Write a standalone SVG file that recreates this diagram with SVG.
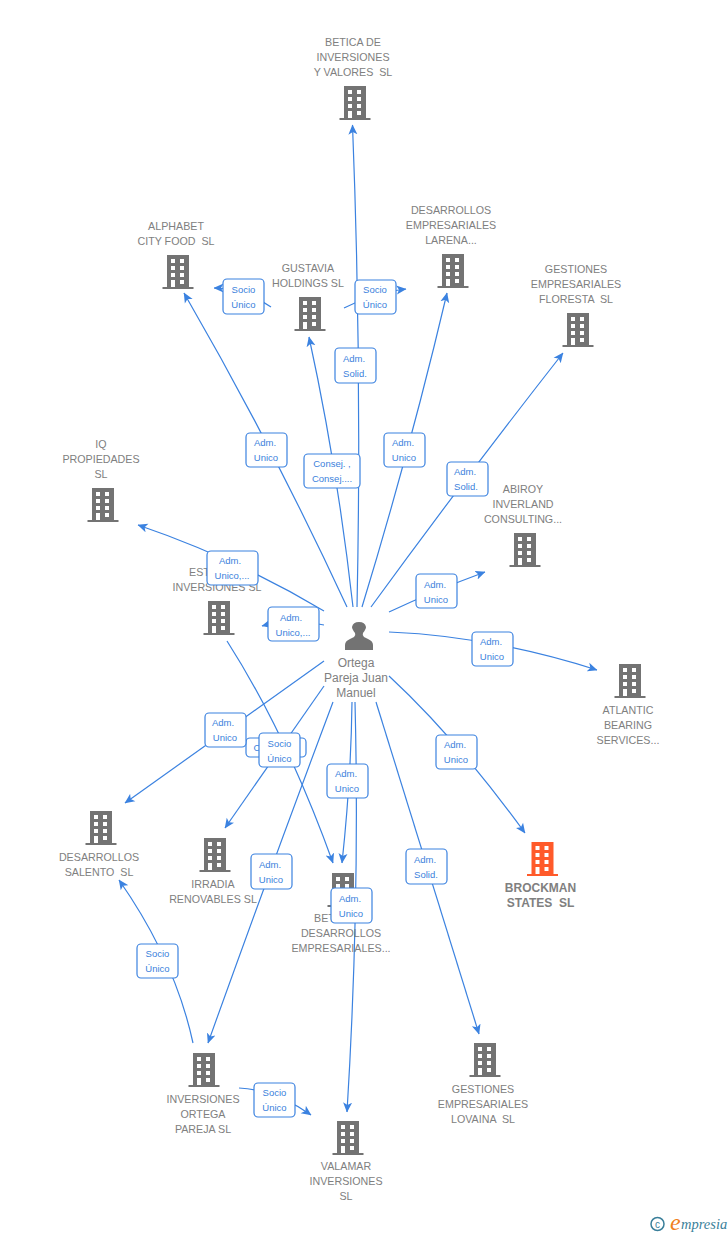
<svg xmlns="http://www.w3.org/2000/svg" width="728" height="1235" viewBox="0 0 728 1235">
<style>
text{font-family:"Liberation Sans",Arial,sans-serif;white-space:pre}
.n{font-size:10.7px;fill:#808080;text-anchor:middle}
.s{font-size:10.7px;fill:#808080}
.b{font-size:12px;fill:#808080;text-anchor:middle;font-weight:bold}
.p{font-size:12px;fill:#808080;text-anchor:middle}
.e{fill:none;stroke:#3b82e0;stroke-width:1.2;marker-end:url(#a)}
.r{fill:#fff;stroke:#3b82e0;stroke-width:1.2}
.l{font-size:9.5px;fill:#3b7fdc;text-anchor:middle}
</style>
<defs>
<marker id="a" viewBox="0 0 10 10" refX="9.5" refY="5" markerWidth="10" markerHeight="10" markerUnits="userSpaceOnUse" orient="auto"><path d="M0 .5L10 5L0 9.5L2.500 5Z" fill="#3b82e0"/></marker>
<path id="bd" fill-rule="evenodd" d="M-11 0H11V32H15.500V34H-15.500V32H-11ZM-7 4V8H-3V4ZM2 4V8H6V4ZM-7 11V15H-3V11ZM2 11V15H6V11ZM-7 18V22H-3V18ZM2 18V22H6V18ZM-7 25V32H-3V25ZM2 25V29H6V25Z"/>
</defs>
<g id="connectors">
<path class="e" d="M357 607Q362 366 352.500 125"/>
<path class="e" d="M353 607Q337 465 309 337"/>
<path class="e" d="M347 607Q272 445 184 293"/>
<path class="e" d="M362 607Q410 450 447 293"/>
<path class="e" d="M371 607Q465 478 563 353"/>
<path class="e" d="M389 612Q436 590 485 572"/>
<path class="e" d="M389 632Q490 636 597 670"/>
<path class="e" d="M389 676Q456 738 525 833"/>
<path class="e" d="M376 702Q427 866 479 1034"/>
<path class="e" d="M355 702Q360 900 347 1112"/>
<path class="e" d="M352 702Q351 780 342 863"/>
<path class="e" d="M227 641Q287 735 333 863"/>
<path class="e" d="M333 702Q270 870 208 1043"/>
<path class="e" d="M324 661L125 803"/>
<path class="e" d="M324 686L225 828"/>
<path class="e" d="M324 611Q235 558 138 525"/>
<path class="e" d="M324 625Q293 618 262 626"/>
<path class="e" d="M193 1043Q175 960 119 880"/>
<path class="e" d="M239 1088Q276 1090 311 1115"/>
<path class="e" d="M271 307Q243 288 214 288"/>
<path class="e" d="M344 308Q375 292 406 289"/>
</g>
<g id="n-betica" fill="#737373"><use href="#bd" x="355" y="86"/><text class="n" x="353" y="46">BETICA DE</text><text class="n" x="353" y="61">INVERSIONES</text><text class="n" x="353" y="76">Y VALORES  SL</text></g>
<g id="n-alphabet" fill="#737373"><use href="#bd" x="178" y="255"/><text class="n" x="176" y="230">ALPHABET</text><text class="n" x="176" y="245">CITY FOOD  SL</text></g>
<g id="n-gustavia" fill="#737373"><use href="#bd" x="310" y="297"/><text class="n" x="308" y="272">GUSTAVIA</text><text class="n" x="308" y="287">HOLDINGS SL</text></g>
<g id="n-larena" fill="#737373"><use href="#bd" x="453" y="254"/><text class="n" x="451" y="214">DESARROLLOS</text><text class="n" x="451" y="229">EMPRESARIALES</text><text class="n" x="451" y="244">LARENA...</text></g>
<g id="n-floresta" fill="#737373"><use href="#bd" x="578" y="313"/><text class="n" x="576" y="273">GESTIONES</text><text class="n" x="576" y="288">EMPRESARIALES</text><text class="n" x="576" y="303">FLORESTA  SL</text></g>
<g id="n-iq" fill="#737373"><use href="#bd" x="103" y="488"/><text class="n" x="101" y="448">IQ</text><text class="n" x="101" y="463">PROPIEDADES</text><text class="n" x="101" y="478">SL</text></g>
<g id="n-abiroy" fill="#737373"><use href="#bd" x="525" y="533"/><text class="n" x="523" y="493">ABIROY</text><text class="n" x="523" y="508">INVERLAND</text><text class="n" x="523" y="523">CONSULTING...</text></g>
<g id="n-est" fill="#737373"><use href="#bd" x="219" y="601"/><text class="s" x="189" y="576">EST</text><text class="n" x="217" y="591">INVERSIONES SL</text></g>
<g id="n-atlantic" fill="#737373"><use href="#bd" x="630" y="664"/><text class="n" x="628" y="714">ATLANTIC</text><text class="n" x="628" y="729">BEARING</text><text class="n" x="628" y="744">SERVICES...</text></g>
<g id="n-salento" fill="#737373"><use href="#bd" x="101" y="811"/><text class="n" x="99" y="861">DESARROLLOS</text><text class="n" x="99" y="876">SALENTO  SL</text></g>
<g id="n-irradia" fill="#737373"><use href="#bd" x="215" y="838"/><text class="n" x="213" y="888">IRRADIA</text><text class="n" x="213" y="903">RENOVABLES SL</text></g>
<g id="n-brockman" fill="#ff5a2a"><use href="#bd" x="542.500" y="842"/><text class="b" x="540.500" y="892">BROCKMAN</text><text class="b" x="540.500" y="907">STATES  SL</text></g>
<g id="n-betdes" fill="#737373"><use href="#bd" x="343" y="873"/><text class="s" x="314" y="922">BET</text><text class="n" x="341" y="937">DESARROLLOS</text><text class="n" x="341" y="952">EMPRESARIALES...</text></g>
<g id="n-ortega" fill="#737373"><use href="#bd" x="204" y="1053"/><text class="n" x="203" y="1103">INVERSIONES</text><text class="n" x="203" y="1118">ORTEGA</text><text class="n" x="203" y="1133">PAREJA SL</text></g>
<g id="n-valamar" fill="#737373"><use href="#bd" x="348" y="1121"/><text class="n" x="346" y="1170">VALAMAR</text><text class="n" x="346" y="1185">INVERSIONES</text><text class="n" x="346" y="1200">SL</text></g>
<g id="n-lovaina" fill="#737373"><use href="#bd" x="485" y="1043"/><text class="n" x="483" y="1093">GESTIONES</text><text class="n" x="483" y="1108">EMPRESARIALES</text><text class="n" x="483" y="1123">LOVAINA  SL</text></g>
<g id="n-person"><path fill="#737373" d="M345 650V645Q345 641 350 639L354 637Q356 635 355 633Q352 629 352 627Q353 622 359 622Q365 622 366 627Q366 629 363 633Q362 635 364 637L368 639Q373 641 373 645V650Z"/><text class="p" x="356" y="667">Ortega</text><text class="p" x="356" y="682">Pareja Juan</text><text class="p" x="356" y="697">Manuel</text></g>
<g id="labels">
<g><rect class="r" x="223" y="279" width="41" height="35" rx="4"/><text class="l" x="243.500" y="293">Socio</text><text class="l" x="243.500" y="308">Único</text></g>
<g><rect class="r" x="355" y="280" width="41" height="34" rx="4"/><text class="l" x="375" y="293">Socio</text><text class="l" x="375" y="308">Único</text></g>
<g><rect class="r" x="335" y="348" width="41" height="35" rx="4"/><text class="l" x="354" y="362">Adm.</text><text class="l" x="355" y="377">Solid.</text></g>
<g><rect class="r" x="246" y="433" width="41" height="34" rx="4"/><text class="l" x="265" y="446">Adm.</text><text class="l" x="266" y="461">Unico</text></g>
<g><rect class="r" x="304" y="454" width="56" height="34" rx="4"/><text class="l" x="332" y="467">Consej. ,</text><text class="l" x="332" y="482">Consej....</text></g>
<g><rect class="r" x="384" y="433" width="41" height="34" rx="4"/><text class="l" x="403" y="446">Adm.</text><text class="l" x="404" y="461">Unico</text></g>
<g><rect class="r" x="447" y="462" width="41" height="34" rx="4"/><text class="l" x="465" y="475">Adm.</text><text class="l" x="466" y="490">Solid.</text></g>
<g><rect class="r" x="416" y="574" width="41" height="34" rx="4"/><text class="l" x="435" y="588">Adm.</text><text class="l" x="436" y="603">Unico</text></g>
<g><rect class="r" x="207" y="551" width="51" height="34" rx="4"/><text class="l" x="230" y="564">Adm.</text><text class="l" x="232" y="579">Unico,...</text></g>
<g><rect class="r" x="268" y="607" width="51" height="34" rx="4"/><text class="l" x="291" y="621">Adm.</text><text class="l" x="293" y="636">Unico,...</text></g>
<g><rect class="r" x="472" y="632" width="41" height="34" rx="4"/><text class="l" x="491" y="645">Adm.</text><text class="l" x="492" y="660">Unico</text></g>
<g><rect class="r" x="246" y="738" width="60" height="19" rx="4"/><text class="l" x="257" y="751">C</text></g>
<g><rect class="r" x="205" y="713" width="41" height="34" rx="4"/><text class="l" x="223" y="726">Adm.</text><text class="l" x="225" y="741">Unico</text></g>
<g><rect class="r" x="259" y="733" width="41" height="34" rx="4"/><text class="l" x="279.500" y="747">Socio</text><text class="l" x="279.500" y="762">Único</text></g>
<g><rect class="r" x="327" y="764" width="41" height="34" rx="4"/><text class="l" x="346" y="777">Adm.</text><text class="l" x="347" y="792">Unico</text></g>
<g><rect class="r" x="436" y="735" width="41" height="34" rx="4"/><text class="l" x="455" y="748">Adm.</text><text class="l" x="456" y="763">Unico</text></g>
<g><rect class="r" x="251" y="854" width="41" height="35" rx="4"/><text class="l" x="270" y="868">Adm.</text><text class="l" x="271" y="883">Unico</text></g>
<g><rect class="r" x="406" y="849" width="41" height="35" rx="4"/><text class="l" x="425" y="863">Adm.</text><text class="l" x="426" y="878">Solid.</text></g>
<g><rect class="r" x="331" y="888" width="41" height="35" rx="4"/><text class="l" x="350" y="902">Adm.</text><text class="l" x="351" y="917">Unico</text></g>
<g><rect class="r" x="137" y="944" width="41" height="34" rx="4"/><text class="l" x="157.500" y="957">Socio</text><text class="l" x="157.500" y="972">Único</text></g>
<g><rect class="r" x="254" y="1083" width="41" height="34" rx="4"/><text class="l" x="274.500" y="1096">Socio</text><text class="l" x="274.500" y="1111">Único</text></g>
</g>
<g id="logo"><circle cx="657.500" cy="1224" r="6.500" fill="none" stroke="#3a7f9a" stroke-width="1.500"/><text x="657.500" y="1227.500" font-size="10" fill="#3a7f9a" text-anchor="middle">c</text><text x="670" y="1230" font-size="24" font-style="italic" fill="#f08020" style="font-family:'Liberation Serif',serif">e</text><text x="681" y="1229" font-size="14.500" font-style="italic" fill="#3a7f9a" style="font-family:'Liberation Serif',serif">mpresia</text></g>
</svg>
